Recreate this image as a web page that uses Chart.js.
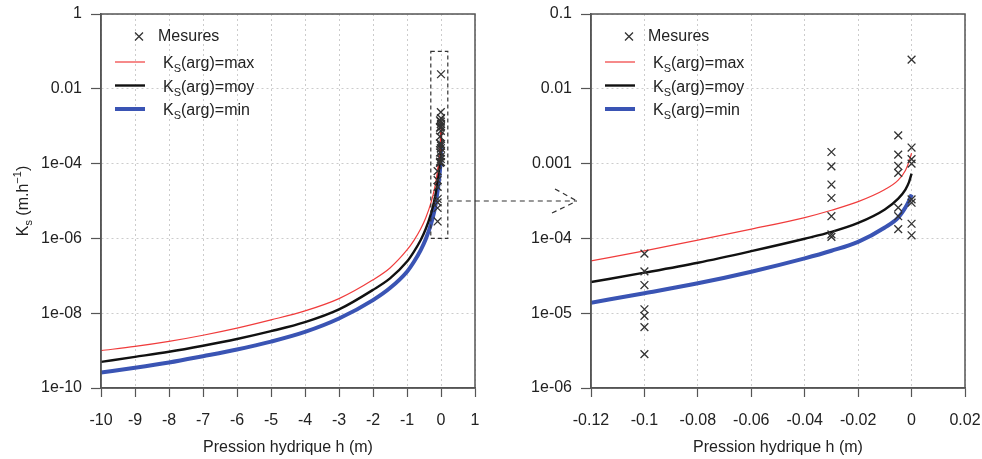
<!DOCTYPE html>
<html>
<head>
<meta charset="utf-8">
<script src="https://cdn.jsdelivr.net/npm/chart.js@4.4.1/dist/chart.umd.min.js"></script>
<style>
html,body{margin:0;padding:0;background:#fff;}
#wrap{position:relative;width:982px;height:459px;overflow:hidden;}
canvas{position:absolute;top:0;}
#cL{left:0;} #cR{left:490px;} #ov{left:0;pointer-events:none;}
</style>
</head>
<body>
<div id="wrap">
  <canvas id="cL" width="491" height="459"></canvas>
  <canvas id="cR" width="491" height="459"></canvas>
  <canvas id="ov" width="982" height="459"></canvas>
</div>
<script>
// ---- courbes Ks(h), partie "large" (h de -10 a -0.15 m)
const hLarge   = [-10, -9, -8, -7, -6, -5, -4, -3, -2, -1.5, -1, -0.8, -0.6, -0.45, -0.3, -0.2, -0.15];
const ksMaxL   = [1.0e-9, 1.29e-9, 1.76e-9, 2.57e-9, 3.98e-9, 6.6e-9, 1.15e-8, 2.45e-8, 7.8e-8, 1.62e-7, 4.9e-7, 8.75e-7, 1.79e-6, 3.53e-6, 8.6e-6, 1.95e-5, 3.34e-5];
const ksMoyL   = [5.0e-10, 6.8e-10, 9.3e-10, 1.35e-9, 2.04e-9, 3.3e-9, 5.75e-9, 1.26e-8, 4.2e-8, 8.5e-8, 2.4e-7, 4.37e-7, 8.9e-7, 1.78e-6, 4.37e-6, 1.0e-5, 1.72e-5];
const ksMinL   = [2.6e-10, 3.47e-10, 4.8e-10, 7.1e-10, 1.07e-9, 1.74e-9, 3.16e-9, 7.2e-9, 2.24e-8, 4.7e-8, 1.29e-7, 2.34e-7, 4.8e-7, 9.5e-7, 2.32e-6, 5.25e-6, 9.0e-6];

// ---- partie "zoom" (h de -0.12 a 0 m)
const hSmall   = [-0.12, -0.1, -0.08, -0.06, -0.04, -0.03, -0.02, -0.01, -0.005, -0.0023, -0.001, 0];
const ksMaxS   = [5.0e-5, 6.8e-5, 9.5e-5, 1.33e-4, 1.9e-4, 2.38e-4, 3.1e-4, 4.5e-4, 6.0e-4, 8.1e-4, 1.05e-3, 1.38e-3];
const ksMoyS   = [2.61e-5, 3.48e-5, 4.73e-5, 6.76e-5, 9.9e-5, 1.22e-4, 1.61e-4, 2.44e-4, 3.41e-4, 4.5e-4, 5.6e-4, 7.36e-4];
const ksMinS   = [1.38e-5, 1.85e-5, 2.51e-5, 3.59e-5, 5.41e-5, 6.84e-5, 9.0e-5, 1.4e-4, 1.9e-4, 2.59e-4, 3.16e-4, 3.86e-4];

// ---- mesures
const hMes = [-0.1, -0.1, -0.1, -0.1, -0.1, -0.1, -0.1,
              -0.03, -0.03, -0.03, -0.03, -0.03, -0.03, -0.03,
              -0.005, -0.005, -0.005, -0.005, -0.005, -0.005, -0.005,
              0, 0, 0, 0, 0, 0, 0, 0];
const kMes = [6.27e-5, 3.63e-5, 2.38e-5, 1.13e-5, 9.2e-6, 6.5e-6, 2.84e-6,
              1.43e-3, 9.2e-4, 5.25e-4, 3.47e-4, 1.98e-4, 1.13e-4, 1.05e-4,
              2.38e-3, 1.32e-3, 9.3e-4, 7.5e-4, 2.58e-4, 1.98e-4, 1.33e-4,
              2.45e-2, 1.64e-3, 1.15e-3, 1.0e-3, 3.33e-4, 3.0e-4, 1.57e-4, 1.1e-4];

// ---- axes
const xTicksL  = [-10, -9, -8, -7, -6, -5, -4, -3, -2, -1, 0, 1];
const xLabelsL = ["-10", "-9", "-8", "-7", "-6", "-5", "-4", "-3", "-2", "-1", "0", "1"];
const yTicksL  = [1e-10, 1e-8, 1e-6, 1e-4, 1e-2, 1];
const yLabelsL = ["1e-10", "1e-08", "1e-06", "1e-04", "0.01", "1"];
const xTicksR  = [-0.12, -0.1, -0.08, -0.06, -0.04, -0.02, 0, 0.02];
const xLabelsR = ["-0.12", "-0.1", "-0.08", "-0.06", "-0.04", "-0.02", "0", "0.02"];
const yTicksR  = [1e-6, 1e-5, 1e-4, 1e-3, 1e-2, 0.1];
const yLabelsR = ["1e-06", "1e-05", "1e-04", "0.001", "0.01", "0.1"];

// cadre du zoom (panneau gauche) et fleche
const zoomH = [-0.3, 0.2];
const zoomK = [1e-6, 0.1];
const arrowK = 1e-5;

const FAM = '"Liberation Sans", Arial, Helvetica, sans-serif';
const TXT = '#222';
const RED = '#f03c3c', BLK = '#111', BLUE = '#3a54b4', AX = '#555';

function xy(hs, ks){ return hs.map((h,i)=>({x:h, y:ks[i]})); }

// texte avec indice / exposant : [texte, taille, decalage]
function drawParts(ctx, parts, x, y, align){
  let w = 0;
  parts.forEach(p=>{ ctx.font = p[1]+'px '+FAM; w += ctx.measureText(p[0]).width; });
  let cx = align==='center' ? x - w/2 : x;
  ctx.textBaseline = 'alphabetic';
  ctx.textAlign = 'left';
  parts.forEach(p=>{
    ctx.font = p[1]+'px '+FAM;
    ctx.fillText(p[0], cx, y + p[2]);
    cx += ctx.measureText(p[0]).width;
  });
}

const deco = {
  id: 'deco',
  afterDatasetsDraw(chart, args, o){
    const {ctx, chartArea:a, scales} = chart;
    ctx.save();
    if(o.zoomBox){
      const x1 = scales.x.getPixelForValue(zoomH[0]), x2 = scales.x.getPixelForValue(zoomH[1]);
      const y1 = scales.y.getPixelForValue(zoomK[1]), y2 = scales.y.getPixelForValue(zoomK[0]);
      ctx.setLineDash([4,3]);
      ctx.strokeStyle = '#333'; ctx.lineWidth = 1.2;
      ctx.strokeRect(x1, y1, x2-x1, y2-y1);
      ctx.setLineDash([]);
    }
    ctx.strokeStyle = AX; ctx.lineWidth = 1.5;
    ctx.strokeRect(a.left, a.top, a.right-a.left, a.bottom-a.top);
    ctx.restore();
  },
  afterDraw(chart, args, o){
    const {ctx, chartArea:a} = chart;
    ctx.save();
    ctx.fillStyle = TXT;
    // titre x
    ctx.font = '16px '+FAM;
    ctx.textAlign = 'center'; ctx.textBaseline = 'middle';
    ctx.fillText('Pression hydrique h (m)', (a.left+a.right)/2, a.bottom+60);
    // titre y (panneau gauche seulement)
    if(o.yTitle){
      ctx.save();
      ctx.translate(a.left-79, (a.top+a.bottom)/2);
      ctx.rotate(-Math.PI/2);
      drawParts(ctx, [['K',16,0],['s',11,4],[' (m.h',16,0],['\u22121',11,-7],[')',16,0]], 0, 6, 'center');
      ctx.restore();
    }
    // legende
    const lx = a.left, ly = a.top;
    ctx.strokeStyle = '#333'; ctx.lineWidth = 1.3;
    const cxm = lx+38, cym = ly+22.5;
    ctx.beginPath();
    ctx.moveTo(cxm-4, cym-4); ctx.lineTo(cxm+4, cym+4);
    ctx.moveTo(cxm+4, cym-4); ctx.lineTo(cxm-4, cym+4);
    ctx.stroke();
    ctx.font = '16px '+FAM; ctx.textAlign='left'; ctx.textBaseline='middle';
    ctx.fillText('Mesures', lx+57, cym+0.5);
    const items = [['max', RED, 1.2, 48], ['moy', BLK, 2.4, 71.5], ['min', BLUE, 4, 95]];
    items.forEach(it=>{
      const yy = ly + it[3];
      ctx.strokeStyle = it[1]; ctx.lineWidth = it[2];
      ctx.beginPath(); ctx.moveTo(lx+14, yy); ctx.lineTo(lx+44, yy); ctx.stroke();
      drawParts(ctx, [['K',16,0],['S',11,4],['(arg)='+it[0],16,0]], lx+62, yy+6, 'left');
    });
    ctx.restore();
  }
};

function makeChart(canvas, c){
  return new Chart(canvas, {
    type: 'scatter',
    data: { datasets: [
      { label:'Mesures', data: xy(hMes, kMes), pointStyle:'crossRot', pointRadius:5.5, pointBorderWidth:1.3,
        borderColor:'#333', backgroundColor:'#333', order:0 },
      { label:'max', data: c.max, showLine:true, pointRadius:0, borderColor:RED, borderWidth:1.2,
        cubicInterpolationMode:'monotone', order:1 },
      { label:'moy', data: c.moy, showLine:true, pointRadius:0, borderColor:BLK, borderWidth:2.4,
        cubicInterpolationMode:'monotone', order:2 },
      { label:'min', data: c.min, showLine:true, pointRadius:0, borderColor:BLUE, borderWidth:4,
        cubicInterpolationMode:'monotone', order:3 }
    ]},
    options: {
      responsive:false, animation:false, events:[],
      layout:{ padding:{ top:14, right:16, left:0, bottom:0 } },
      plugins:{ legend:{display:false}, tooltip:{enabled:false}, deco:{ zoomBox:c.zoomBox, yTitle:c.yTitle } },
      scales:{
        x:{
          type:'linear', min:c.xTicks[0], max:c.xTicks[c.xTicks.length-1],
          afterBuildTicks: s=>{ s.ticks = c.xTicks.map(v=>({value:v})); },
          afterFit: s=>{ s.height = 71; s.paddingLeft = 0; s.paddingRight = 0; },
          ticks:{ autoSkip:false, maxRotation:0, padding:14, color:TXT, font:{family:FAM, size:16},
                  callback:(v,i)=>c.xLabels[i] },
          grid:{ color:'#cccccc', lineWidth:1, tickColor:AX, tickLength:9, tickWidth:1.2 },
          border:{ color:AX, width:1.5, dash:[2,3] }
        },
        y:{
          type:'logarithmic', min:c.yTicks[0], max:c.yTicks[c.yTicks.length-1],
          afterBuildTicks: s=>{ s.ticks = c.yTicks.map(v=>({value:v})); },
          afterFit: s=>{ s.width = 101; s.paddingTop = 0; s.paddingBottom = 0; },
          ticks:{ autoSkip:false, padding:9, color:TXT, font:{family:FAM, size:16},
                  callback:(v,i)=>c.yLabels[i] },
          grid:{ color:'#cccccc', lineWidth:1, tickColor:AX, tickLength:10, tickWidth:1.2 },
          border:{ color:AX, width:1.5, dash:[2,3] }
        }
      }
    },
    plugins:[deco]
  });
}

const chartL = makeChart(document.getElementById('cL'), {
  max: xy(hLarge.concat(hSmall), ksMaxL.concat(ksMaxS)),
  moy: xy(hLarge.concat(hSmall), ksMoyL.concat(ksMoyS)),
  min: xy(hLarge.concat(hSmall), ksMinL.concat(ksMinS)),
  xTicks:xTicksL, xLabels:xLabelsL, yTicks:yTicksL, yLabels:yLabelsL, zoomBox:true, yTitle:true
});
const chartR = makeChart(document.getElementById('cR'), {
  max: xy(hSmall, ksMaxS), moy: xy(hSmall, ksMoyS), min: xy(hSmall, ksMinS),
  xTicks:xTicksR, xLabels:xLabelsR, yTicks:yTicksR, yLabels:yLabelsR, zoomBox:false, yTitle:false
});

// fleche pointillee entre les deux panneaux
(function(){
  const ctx = document.getElementById('ov').getContext('2d');
  const x0 = chartL.scales.x.getPixelForValue(zoomH[1]);
  const y0 = chartL.scales.y.getPixelForValue(arrowK);
  const x1 = 490 + chartR.chartArea.left - 14;
  ctx.strokeStyle = '#333'; ctx.lineWidth = 1.2;
  ctx.setLineDash([5,4]);
  ctx.beginPath();
  ctx.moveTo(x0, y0); ctx.lineTo(x1, y0);
  ctx.moveTo(x1-22, y0-12); ctx.lineTo(x1, y0);
  ctx.moveTo(x1-25, y0+12); ctx.lineTo(x1, y0);
  ctx.stroke();
})();
</script>
</body>
</html>
